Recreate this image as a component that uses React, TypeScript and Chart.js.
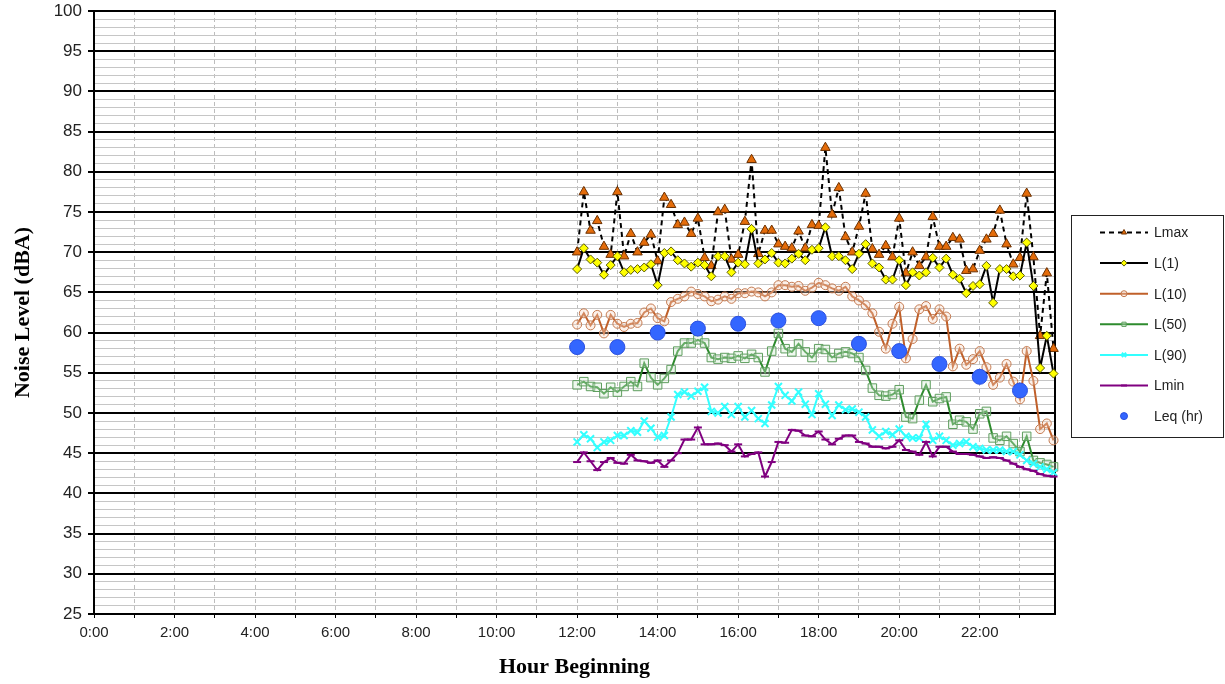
import React, { useEffect, useRef } from 'react';
import { Chart, registerables } from 'chart.js';
import { drawPoint } from 'chart.js/helpers';

Chart.register(...registerables);

const TIMES = [
  '12:00', '12:10', '12:20', '12:30', '12:40', '12:50',
  '13:00', '13:10', '13:20', '13:30', '13:40', '13:50',
  '14:00', '14:10', '14:20', '14:30', '14:40', '14:50',
  '15:00', '15:10', '15:20', '15:30', '15:40', '15:50',
  '16:00', '16:10', '16:20', '16:30', '16:40', '16:50',
  '17:00', '17:10', '17:20', '17:30', '17:40', '17:50',
  '18:00', '18:10', '18:20', '18:30', '18:40', '18:50',
  '19:00', '19:10', '19:20', '19:30', '19:40', '19:50',
  '20:00', '20:10', '20:20', '20:30', '20:40', '20:50',
  '21:00', '21:10', '21:20', '21:30', '21:40', '21:50',
  '22:00', '22:10', '22:20', '22:30', '22:40', '22:50',
  '23:00', '23:10', '23:20', '23:30', '23:40', '23:50',
];

const LMAX = [
  70.0, 77.5, 72.7, 73.9, 70.7, 69.7, 77.5, 69.5, 72.3, 70.0, 71.2, 72.2,
  68.9, 76.8, 75.9, 73.4, 73.7, 72.3, 74.2, 69.3, 68.3, 75.0, 75.3, 69.1,
  69.7, 73.8, 81.5, 69.8, 72.7, 72.7, 71.0, 70.7, 70.5, 72.6, 70.5, 73.4,
  73.3, 83.0, 74.7, 78.0, 71.9, 70.0, 73.2, 77.3, 70.4, 69.7, 70.8, 69.4,
  74.2, 67.4, 70.0, 68.3, 69.4, 74.4, 70.7, 70.7, 71.8, 71.6, 67.7, 67.9,
  70.2, 71.6, 72.3, 75.2, 71.0, 68.5, 69.3, 77.3, 69.4, 59.6, 67.4, 58.0,
];

const L1 = [
  67.9, 70.5, 69.1, 68.7, 67.2, 68.4, 69.5, 67.5, 67.8, 67.9, 68.1, 68.5,
  65.9, 69.9, 70.1, 69.0, 68.6, 68.2, 68.7, 68.4, 67.0, 69.5, 69.5, 67.5,
  68.7, 68.5, 72.9, 68.6, 69.1, 69.9, 68.7, 68.6, 69.2, 69.8, 69.0, 70.3,
  70.5, 73.1, 69.5, 69.5, 69.0, 67.9, 69.8, 71.0, 68.6, 68.1, 66.6, 66.6,
  69.0, 65.9, 67.5, 67.1, 67.5, 69.3, 68.1, 69.2, 67.2, 66.7, 64.9, 65.8,
  66.0, 68.3, 63.7, 67.9, 67.9, 67.0, 67.1, 71.2, 65.8, 55.6, 59.6, 54.9,
];

const L10 = [
  61.0, 62.4, 60.9, 62.2, 59.9, 62.2, 61.1, 60.7, 61.1, 61.2, 62.5, 63.0,
  61.8, 61.4, 63.8, 64.2, 64.5, 65.1, 64.8, 64.5, 63.9, 64.1, 64.5, 64.2,
  64.9, 64.9, 65.1, 65.0, 64.5, 65.0, 65.9, 65.9, 65.7, 65.8, 65.2, 65.6,
  66.2, 65.9, 65.5, 65.2, 65.7, 64.5, 64.0, 63.4, 62.4, 60.1, 58.0, 61.1,
  63.2, 56.8, 59.2, 62.9, 63.3, 61.7, 62.9, 62.0, 55.8, 58.0, 56.0, 56.7,
  57.7, 55.7, 53.5, 54.4, 56.1, 53.9, 51.7, 57.7, 54.0, 48.0, 48.7, 46.6,
];

const L50 = [
  53.5, 53.9, 53.3, 53.2, 52.4, 53.2, 52.6, 53.3, 53.9, 53.3, 56.2, 54.4,
  53.5, 54.3, 55.4, 57.7, 58.7, 58.7, 59.1, 58.7, 56.9, 56.7, 56.9, 56.8,
  57.1, 56.8, 57.3, 56.9, 55.1, 57.7, 59.9, 58.0, 57.6, 58.6, 57.6, 56.9,
  58.0, 57.9, 56.9, 57.4, 57.6, 57.4, 56.9, 55.3, 53.1, 52.2, 52.1, 52.3,
  52.9, 49.5, 49.3, 51.6, 53.5, 51.4, 51.8, 52.0, 48.6, 49.1, 48.9, 48.0,
  49.9, 50.2, 46.9, 46.6, 47.1, 46.2, 45.2, 47.1, 44.1, 43.8, 43.6, 43.3,
];

const L90 = [
  46.4, 47.3, 46.8, 45.7, 46.4, 46.6, 47.2, 47.2, 47.8, 47.6, 49.0, 48.1,
  47.0, 47.2, 49.5, 52.3, 52.6, 52.1, 52.7, 53.2, 50.2, 50.0, 50.8, 49.8,
  50.8, 49.5, 50.3, 49.3, 48.7, 51.0, 53.3, 52.2, 51.5, 52.6, 51.1, 49.8,
  52.4, 51.1, 49.7, 51.0, 50.4, 50.5, 50.1, 49.5, 47.9, 47.1, 47.7, 47.3,
  48.0, 47.1, 46.9, 46.9, 48.6, 46.6, 47.1, 46.6, 46.0, 46.2, 46.4, 45.8,
  45.6, 45.4, 45.4, 45.4, 45.2, 45.2, 44.8, 44.1, 43.7, 43.3, 43.0, 42.6,
];

const LMIN = [
  43.9, 45.1, 44.0, 42.9, 43.9, 44.4, 43.8, 43.7, 44.8, 44.1, 44.0, 43.8,
  44.1, 43.3, 44.1, 45.0, 46.7, 46.7, 48.2, 46.1, 46.1, 46.2, 46.0, 45.2,
  46.1, 44.6, 44.9, 45.1, 42.1, 43.9, 46.4, 46.3, 47.9, 47.8, 47.2, 47.1,
  47.7, 46.7, 46.1, 46.8, 47.2, 47.2, 46.4, 46.2, 45.8, 45.8, 45.6, 45.8,
  46.6, 45.4, 45.2, 44.8, 46.4, 44.6, 45.8, 45.8, 45.2, 44.9, 44.9, 44.8,
  44.6, 44.4, 44.5, 44.4, 44.1, 43.7, 43.3, 43.0, 42.8, 42.4, 42.2, 42.1,
];

const LEQ_TIMES = ['12:00', '13:00', '14:00', '15:00', '16:00', '17:00', '18:00', '19:00', '20:00', '21:00', '22:00', '23:00'];
const LEQ = [58.2, 58.2, 60.0, 60.5, 61.1, 61.5, 61.8, 58.6, 57.7, 56.1, 54.5, 52.8];

const SERIES_LABELS = ['Lmax', 'L(1)', 'L(10)', 'L(50)', 'L(90)', 'Lmin', 'Leq (hr)'];

const Y_TITLE = 'Noise Level (dBA)';
const X_TITLE = 'Hour Beginning';

const toHours = (s: string) => {
  const [h, m] = s.split(':').map(Number);
  return h + m / 60;
};
const toPoints = (times: string[], vals: number[]) => vals.map((v, i) => ({ x: toHours(times[i]), y: v }));

const SANS = "Arial, 'Liberation Sans', sans-serif";
const SERIF = "'Times New Roman', 'Liberation Serif', serif";

const framePlugin = {
  id: 'frameAndLegend',
  beforeDatasetsDraw(chart: any) {
    const { ctx, chartArea: a } = chart;
    ctx.save();
    ctx.strokeStyle = '#000';
    ctx.lineWidth = 2;
    ctx.beginPath();
    ctx.moveTo(a.right, a.top - 1);
    ctx.lineTo(a.right, a.bottom + 1);
    ctx.stroke();
    ctx.restore();
  },
  afterDraw(chart: any) {
    const { ctx } = chart;
    ctx.save();
    ctx.fillStyle = '#fff';
    ctx.fillRect(1071, 215, 153, 222);
    ctx.strokeStyle = '#222';
    ctx.lineWidth = 1;
    ctx.strokeRect(1071.5, 215.5, 152, 222);
    chart.data.datasets.forEach((ds: any, k: number) => {
      const y = 232.5 + k * 30.6;
      if (ds.showLine !== false) {
        ctx.save();
        ctx.strokeStyle = ds.borderColor;
        ctx.lineWidth = 2;
        ctx.setLineDash(ds.borderDash || []);
        ctx.beginPath();
        ctx.moveTo(1100, y);
        ctx.lineTo(1148, y);
        ctx.stroke();
        ctx.restore();
      }
      ctx.save();
      ctx.fillStyle = ds.pointBackgroundColor;
      ctx.strokeStyle = ds.pointBorderColor;
      ctx.lineWidth = ds.pointStyle === 'crossRot' || ds.pointStyle === 'line' ? 2 : 1;
      drawPoint(ctx, { pointStyle: ds.pointStyle, radius: ds.pointStyle === 'circle' && ds.showLine === false ? 3.5 : 3, rotation: 0, borderWidth: 1 }, 1124, y);
      ctx.restore();
      ctx.fillStyle = '#222';
      ctx.font = `14px ${SANS}`;
      ctx.textBaseline = 'middle';
      ctx.textAlign = 'left';
      ctx.fillText(ds.label, 1154, y + 1);
    });
    ctx.restore();
  },
};

export default function App() {
  const canvasRef = useRef<HTMLCanvasElement | null>(null);

  useEffect(() => {
    if (!canvasRef.current) return;
    const common = { tension: 0, borderWidth: 2, pointBorderWidth: 1, clip: false as any, pointHoverRadius: 0 };
    const chart = new Chart(canvasRef.current, {
      type: 'line',
      data: {
        datasets: [
          {
            ...common,
            label: SERIES_LABELS[0],
            data: toPoints(TIMES, LMAX),
            borderColor: '#000',
            borderDash: [5, 4],
            pointStyle: 'triangle',
            pointRadius: 5.5,
            pointBackgroundColor: '#E46C0A',
            pointBorderColor: '#6b3000',
            order: 6,
          },
          {
            ...common,
            label: SERIES_LABELS[1],
            data: toPoints(TIMES, L1),
            borderColor: '#000',
            pointStyle: 'rectRot',
            pointRadius: 4.5,
            pointBackgroundColor: '#FFFF00',
            pointBorderColor: '#5a5a00',
            order: 5,
          },
          {
            ...common,
            label: SERIES_LABELS[2],
            data: toPoints(TIMES, L10),
            borderColor: '#C0602A',
            pointStyle: 'circle',
            pointRadius: 4.5,
            pointBackgroundColor: 'rgba(245,215,195,0.35)',
            pointBorderColor: '#C47a50',
            order: 4,
          },
          {
            ...common,
            label: SERIES_LABELS[3],
            data: toPoints(TIMES, L50),
            borderColor: '#2E8B2E',
            pointStyle: 'rect',
            pointRadius: 6,
            pointBackgroundColor: 'rgba(210,235,210,0.35)',
            pointBorderColor: '#5E9E5E',
            order: 3,
          },
          {
            ...common,
            label: SERIES_LABELS[4],
            data: toPoints(TIMES, L90),
            borderColor: '#33FFFF',
            pointStyle: 'crossRot',
            pointRadius: 5,
            pointBorderWidth: 2,
            pointBackgroundColor: '#33FFFF',
            pointBorderColor: '#33FFFF',
            order: 2,
          },
          {
            ...common,
            label: SERIES_LABELS[5],
            data: toPoints(TIMES, LMIN),
            borderColor: '#800080',
            pointStyle: 'line',
            pointRadius: 4,
            pointBorderWidth: 2,
            pointBackgroundColor: '#800080',
            pointBorderColor: '#800080',
            order: 1,
          },
          {
            ...common,
            label: SERIES_LABELS[6],
            data: toPoints(LEQ_TIMES, LEQ),
            showLine: false,
            borderColor: '#3366FF',
            pointStyle: 'circle',
            pointRadius: 7.5,
            pointBackgroundColor: '#3366FF',
            pointBorderColor: '#2a4fe0',
            order: 0,
          },
        ],
      },
      options: {
        responsive: false,
        animation: false,
        events: [],
        layout: { padding: { left: 0, top: 11, right: 170, bottom: 0 }, autoPadding: false },
        plugins: { legend: { display: false }, tooltip: { enabled: false } },
        scales: {
          x: {
            type: 'linear',
            min: 0,
            max: 23.87,
            afterFit: (s: any) => { s.height = 70; s.paddingLeft = 0; s.paddingRight = 0; },
            ticks: {
              stepSize: 1,
              autoSkip: false,
              includeBounds: false,
              maxRotation: 0,
              minRotation: 0,
              padding: 6,
              color: '#222',
              font: { family: SANS, size: 15 },
              callback: (v: any) => (Number.isInteger(v) && v % 2 === 0 ? `${v}:00` : ''),
            },
            grid: {
              color: '#bdbdbd',
              lineWidth: 1,
              tickColor: '#000',
              tickLength: 4,
              tickBorderDash: [],
            },
            border: { color: '#000', width: 2, dash: [4, 3] },
            title: {
              display: true,
              text: X_TITLE,
              color: '#000',
              font: { family: SERIF, size: 22, weight: 'bold' },
              padding: { top: 0, bottom: 3 },
            },
          },
          y: {
            type: 'linear',
            min: 25,
            max: 100,
            afterFit: (s: any) => { s.width = 94; s.paddingTop = 0; s.paddingBottom = 0; },
            ticks: {
              stepSize: 1,
              autoSkip: false,
              padding: 6,
              color: '#222',
              font: { family: SANS, size: 17 },
              callback: (v: any) => (v % 5 === 0 ? String(v) : ''),
            },
            grid: {
              color: (c: any) => (c.tick && c.tick.value % 5 === 0 ? '#000' : '#c6c6c6'),
              lineWidth: (c: any) => (c.tick && c.tick.value % 5 === 0 ? 2 : 1),
              tickColor: (c: any) => (c.tick && c.tick.value % 5 === 0 ? '#000' : 'rgba(0,0,0,0)'),
              tickLength: 6,
            },
            border: { color: '#000', width: 2 },
            title: {
              display: true,
              text: Y_TITLE,
              color: '#000',
              font: { family: SERIF, size: 22, weight: 'bold' },
              padding: { top: 10, bottom: 0 },
            },
          },
        },
      },
      plugins: [framePlugin],
    } as any);
    return () => chart.destroy();
  }, []);

  return (
    <div style={{ position: 'absolute', left: 0, top: 0, width: 1225, height: 684, background: '#fff' }}>
      <canvas ref={canvasRef} width={1225} height={684} style={{ display: 'block', width: 1225, height: 684 }} />
    </div>
  );
}
